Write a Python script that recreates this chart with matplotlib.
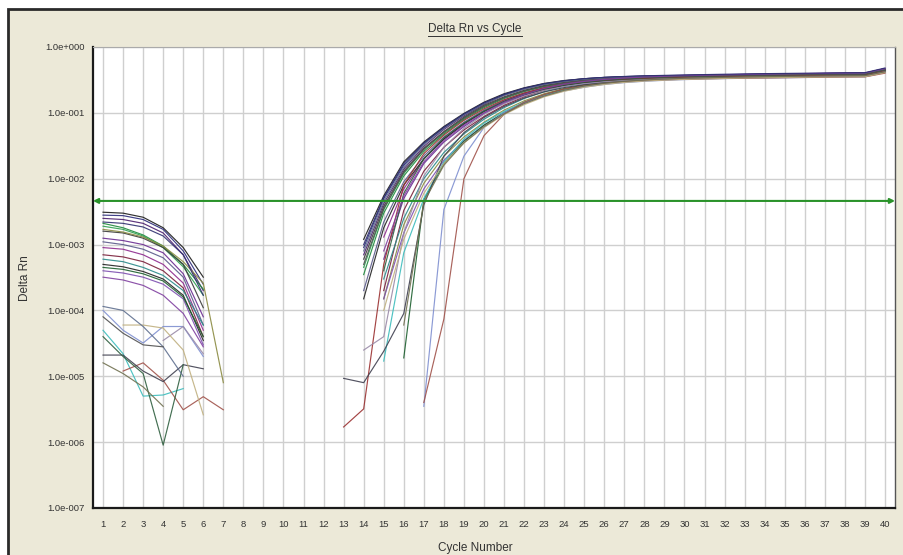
import numpy as np
import matplotlib
matplotlib.use("Agg")
import matplotlib.pyplot as plt
from matplotlib.patches import Rectangle, FancyArrowPatch
from matplotlib.lines import Line2D
from matplotlib.ticker import FixedLocator, FixedFormatter, NullLocator

plt.rcParams['font.family'] = ['Liberation Sans', 'DejaVu Sans']

title = "Delta Rn vs Cycle"
x_label = "Cycle Number"
y_label = "Delta Rn"
cycles = list(range(1, 41))
y_tick_values = [1e0, 1e-1, 1e-2, 1e-3, 1e-4, 1e-5, 1e-6, 1e-7]
y_tick_labels = ["1.0e+000", "1.0e-001", "1.0e-002", "1.0e-003",
                 "1.0e-004", "1.0e-005", "1.0e-006", "1.0e-007"]
threshold = 4.6e-3

curve_colors = [
    '#1a1a1a', '#2b2b7a', '#4b1f6f', '#1e8a3c', '#2ea050', '#3a3a3a', '#6a2c91',
    '#5a5a8a', '#8e2a8e', '#7a1f3a', '#2a8a8a', '#8a8a40', '#222222', '#7d4fb0',
    '#1c5f2e', '#3cbcbc', '#7f8fd0', '#a0524a', '#9a3030', '#404050', '#9a8aa8',
    '#2f5f3f', '#c0b080', '#707050', '#5f6f8f', '#505050', '#8040a0', '#303070',
]

# baseline-region values, cycles 1.. (None = not shown)
early_values = [
    [3.1e-3, 3.0e-3, 2.6e-3, 1.8e-3, 9e-4, 3.2e-4],
    [2.8e-3, 2.75e-3, 2.4e-3, 1.7e-3, 8e-4, 2.5e-4],
    [2.5e-3, 2.4e-3, 2.1e-3, 1.5e-3, 7e-4, 2e-4],
    [2.1e-3, 1.8e-3, 1.4e-3, 9.5e-4, 5e-4, 2.1e-4],
    [1.9e-3, 1.7e-3, 1.35e-3, 9e-4, 4.6e-4, 1.7e-4],
    [1.6e-3, 1.5e-3, 1.25e-3, 9e-4, 5e-4, 1.1e-4],
    [1.25e-3, 1.15e-3, 1e-3, 7.5e-4, 3.6e-4, 8e-5],
    [1.1e-3, 1.0e-3, 8.5e-4, 6.3e-4, 3.2e-4, 6e-5],
    [9e-4, 8.5e-4, 7e-4, 5e-4, 2.6e-4, 5e-5],
    [7e-4, 6.5e-4, 5.5e-4, 4e-4, 2.2e-4, 4e-5],
    [6e-4, 5.5e-4, 4.5e-4, 3.4e-4, 2e-4, 6e-5],
    [1.7e-3, 1.55e-3, 1.3e-3, 9.5e-4, 5.5e-4, 2.6e-4, 8e-6],
    [5e-4, 4.6e-4, 3.9e-4, 3e-4, 1.7e-4, 3.5e-5],
    [4e-4, 3.7e-4, 3.2e-4, 2.5e-4, 1.5e-4, 3e-5],
    [4.5e-4, 4.2e-4, 3.6e-4, 2.8e-4, 1.6e-4, 4e-5],
    [5e-5, 2.2e-5, 5e-6, 5.2e-6, 6.5e-6],
    [1.0e-4, 5e-5, 3.2e-5, 5.7e-5, 5.7e-5, 2e-5],
    [None, 1.2e-5, 1.6e-5, 8.7e-6, 3.1e-6, 4.9e-6, 3.1e-6],
    [],
    [2.1e-5, 2.1e-5, 1.2e-5, 8.3e-6, 1.5e-5, 1.3e-5],
    [None, None, None, 3.5e-5, 5.7e-5, 2.2e-5],
    [4e-5, 2e-5, 1.1e-5, 9e-7, 1.5e-5],
    [None, 6e-5, 6e-5, 5.4e-5, 2.5e-5, 2.6e-6],
    [1.6e-5, 1.1e-5, 6.9e-6, 3.5e-6],
    [1.15e-4, 1.0e-4, 5.7e-5, 2.8e-5, 1e-5],
    [8e-5, 4.5e-5, 3e-5, 2.8e-5],
    [3.2e-4, 2.9e-4, 2.4e-4, 1.7e-4, 9e-5, 2.8e-5],
    [2.2e-3, 2.1e-3, 1.85e-3, 1.35e-3, 7e-4, 1.7e-4],
]

# first cycle of the amplification-region values
late_start = [14, 14, 14, 14, 14, 14, 15, 14, 15, 15, 15, 15, 14, 15,
              16, 15, 17, 17, 13, 13, 14, 15, 15, 16, 14, 14, 15, 14]

late_values = [
    [1.2e-3, 5.5e-3, 1.8e-2, 3.6e-2, 6.2e-2, 0.098, 0.145, 0.195, 0.24, 0.28, 0.31, 0.33, 0.345, 0.355, 0.36, 0.365, 0.368, 0.372, 0.375, 0.378, 0.38, 0.383, 0.385, 0.388, 0.39, 0.392, 0.45],
    [9e-4, 5e-3, 1.6e-2, 3.4e-2, 6e-2, 0.095, 0.14, 0.19, 0.235, 0.275, 0.305, 0.33, 0.345, 0.355, 0.362, 0.367, 0.372, 0.376, 0.38, 0.384, 0.388, 0.39, 0.393, 0.396, 0.398, 0.40, 0.46],
    [7e-4, 4.2e-3, 1.4e-2, 3.1e-2, 5.6e-2, 0.09, 0.135, 0.185, 0.23, 0.27, 0.30, 0.325, 0.34, 0.352, 0.36, 0.366, 0.37, 0.375, 0.38, 0.383, 0.386, 0.39, 0.392, 0.395, 0.397, 0.40, 0.47],
    [3.5e-4, 3e-3, 1.1e-2, 2.6e-2, 4.8e-2, 0.08, 0.12, 0.165, 0.21, 0.25, 0.28, 0.305, 0.32, 0.332, 0.34, 0.346, 0.35, 0.355, 0.358, 0.362, 0.365, 0.368, 0.37, 0.372, 0.375, 0.377, 0.44],
    [4.5e-4, 3.4e-3, 1.2e-2, 2.8e-2, 5e-2, 0.083, 0.125, 0.17, 0.215, 0.255, 0.285, 0.31, 0.325, 0.336, 0.344, 0.35, 0.354, 0.358, 0.362, 0.366, 0.37, 0.372, 0.375, 0.378, 0.38, 0.382, 0.44],
    [6e-4, 3.8e-3, 1.3e-2, 2.9e-2, 5.2e-2, 0.086, 0.13, 0.175, 0.22, 0.26, 0.29, 0.315, 0.33, 0.34, 0.348, 0.354, 0.358, 0.362, 0.366, 0.37, 0.373, 0.376, 0.378, 0.38, 0.382, 0.385, 0.45],
    [6e-4, 5e-3, 1.7e-2, 3.6e-2, 6.2e-2, 0.098, 0.14, 0.185, 0.23, 0.27, 0.30, 0.322, 0.338, 0.35, 0.358, 0.364, 0.37, 0.375, 0.38, 0.385, 0.39, 0.394, 0.397, 0.40, 0.402, 0.47],
    [2e-4, 2.2e-3, 9e-3, 2.2e-2, 4.3e-2, 0.072, 0.11, 0.155, 0.2, 0.24, 0.27, 0.295, 0.312, 0.325, 0.334, 0.34, 0.345, 0.35, 0.355, 0.358, 0.362, 0.365, 0.368, 0.37, 0.372, 0.374, 0.43],
    [1.3e-3, 7e-3, 2e-2, 4e-2, 6.8e-2, 0.105, 0.15, 0.195, 0.24, 0.275, 0.305, 0.325, 0.34, 0.35, 0.358, 0.365, 0.37, 0.375, 0.38, 0.384, 0.388, 0.392, 0.395, 0.398, 0.40, 0.46],
    [2e-4, 3.3e-3, 1.3e-2, 3e-2, 5.5e-2, 0.088, 0.13, 0.175, 0.22, 0.26, 0.29, 0.312, 0.328, 0.34, 0.348, 0.354, 0.36, 0.365, 0.37, 0.374, 0.378, 0.381, 0.384, 0.387, 0.39, 0.45],
    [3e-4, 2.5e-3, 1e-2, 2.5e-2, 4.8e-2, 0.08, 0.12, 0.165, 0.21, 0.25, 0.28, 0.302, 0.318, 0.33, 0.338, 0.345, 0.35, 0.355, 0.36, 0.364, 0.368, 0.371, 0.374, 0.377, 0.38, 0.44],
    [1.5e-4, 2e-3, 8.5e-3, 2.2e-2, 4.3e-2, 0.072, 0.11, 0.152, 0.195, 0.235, 0.265, 0.29, 0.306, 0.318, 0.326, 0.332, 0.337, 0.342, 0.346, 0.35, 0.353, 0.356, 0.359, 0.362, 0.364, 0.42],
    [1.5e-4, 1.8e-3, 8e-3, 2e-2, 4e-2, 0.068, 0.105, 0.148, 0.19, 0.23, 0.262, 0.288, 0.305, 0.318, 0.327, 0.334, 0.34, 0.345, 0.35, 0.354, 0.358, 0.361, 0.364, 0.367, 0.37, 0.372, 0.43],
    [1.5e-4, 1.5e-3, 7e-3, 1.9e-2, 3.8e-2, 0.065, 0.1, 0.142, 0.185, 0.225, 0.258, 0.284, 0.302, 0.316, 0.326, 0.334, 0.34, 0.346, 0.351, 0.356, 0.36, 0.364, 0.367, 0.37, 0.373, 0.43],
    [1.9e-5, 4.8e-3, 1.7e-2, 3.7e-2, 6.5e-2, 0.1, 0.143, 0.188, 0.23, 0.265, 0.292, 0.312, 0.326, 0.336, 0.343, 0.348, 0.353, 0.357, 0.361, 0.365, 0.368, 0.371, 0.374, 0.376, 0.43],
    [1.7e-5, 7.5e-4, 5e-3, 1.8e-2, 4e-2, 0.07, 0.105, 0.145, 0.185, 0.222, 0.254, 0.278, 0.296, 0.31, 0.32, 0.328, 0.334, 0.34, 0.345, 0.35, 0.354, 0.357, 0.36, 0.363, 0.366, 0.42],
    [3.5e-6, 3.4e-3, 2.2e-2, 6e-2, 0.1, 0.14, 0.18, 0.215, 0.245, 0.27, 0.288, 0.302, 0.312, 0.32, 0.326, 0.331, 0.335, 0.338, 0.341, 0.344, 0.347, 0.35, 0.352, 0.41],
    [4e-6, 7.4e-5, 1.0e-2, 4.5e-2, 0.095, 0.145, 0.19, 0.23, 0.26, 0.282, 0.298, 0.31, 0.318, 0.324, 0.329, 0.333, 0.336, 0.339, 0.342, 0.345, 0.347, 0.35, 0.352, 0.40],
    [1.7e-6, 3.2e-6, 5e-4, 8e-3, 2.4e-2, 4.6e-2, 0.077, 0.115, 0.158, 0.2, 0.24, 0.27, 0.295, 0.312, 0.325, 0.334, 0.34, 0.346, 0.351, 0.355, 0.359, 0.362, 0.365, 0.368, 0.37, 0.372, 0.375, 0.43],
    [9.3e-6, 8e-6, 2.4e-5, 9e-5, 4e-3, 2.2e-2, 5e-2, 0.085, 0.125, 0.168, 0.208, 0.242, 0.27, 0.29, 0.305, 0.316, 0.324, 0.331, 0.336, 0.34, 0.344, 0.348, 0.351, 0.354, 0.357, 0.36, 0.362, 0.42],
    [2.5e-5, 4e-5, 1.5e-3, 1.1e-2, 3e-2, 5.8e-2, 0.095, 0.138, 0.18, 0.22, 0.252, 0.278, 0.297, 0.31, 0.32, 0.328, 0.334, 0.339, 0.343, 0.347, 0.35, 0.353, 0.356, 0.358, 0.36, 0.362, 0.42],
    [4e-4, 6e-3, 2e-2, 4.2e-2, 7e-2, 0.106, 0.148, 0.19, 0.23, 0.265, 0.292, 0.313, 0.328, 0.34, 0.348, 0.355, 0.36, 0.365, 0.37, 0.374, 0.378, 0.381, 0.384, 0.387, 0.39, 0.45],
    [1e-4, 1.2e-3, 6e-3, 1.7e-2, 3.5e-2, 0.06, 0.094, 0.133, 0.175, 0.213, 0.245, 0.27, 0.29, 0.304, 0.314, 0.322, 0.328, 0.333, 0.338, 0.342, 0.345, 0.348, 0.35, 0.352, 0.354, 0.41],
    [6e-5, 4.4e-3, 1.6e-2, 3.5e-2, 6.2e-2, 0.096, 0.138, 0.18, 0.22, 0.255, 0.282, 0.302, 0.316, 0.327, 0.335, 0.341, 0.346, 0.35, 0.354, 0.357, 0.36, 0.363, 0.365, 0.367, 0.42],
    [8e-4, 4.6e-3, 1.5e-2, 3.3e-2, 5.8e-2, 0.093, 0.138, 0.185, 0.23, 0.27, 0.3, 0.322, 0.338, 0.35, 0.358, 0.364, 0.369, 0.374, 0.378, 0.382, 0.386, 0.389, 0.392, 0.395, 0.398, 0.40, 0.47],
    [5e-4, 3.5e-3, 1.25e-2, 2.8e-2, 5.1e-2, 0.083, 0.125, 0.17, 0.214, 0.254, 0.285, 0.31, 0.326, 0.338, 0.346, 0.352, 0.357, 0.362, 0.366, 0.37, 0.373, 0.376, 0.379, 0.382, 0.384, 0.386, 0.45],
    [8e-4, 5.5e-3, 1.8e-2, 3.8e-2, 6.5e-2, 0.1, 0.145, 0.19, 0.235, 0.272, 0.3, 0.322, 0.338, 0.35, 0.36, 0.367, 0.373, 0.378, 0.383, 0.387, 0.391, 0.395, 0.398, 0.401, 0.404, 0.47],
    [1e-3, 5.2e-3, 1.7e-2, 3.5e-2, 6e-2, 0.096, 0.142, 0.19, 0.237, 0.277, 0.307, 0.33, 0.346, 0.357, 0.365, 0.371, 0.376, 0.381, 0.386, 0.39, 0.394, 0.397, 0.40, 0.403, 0.406, 0.408, 0.48],
]

W, H = 904, 555
fig = plt.figure(figsize=(W / 100, H / 100), dpi=100)
fig.patch.set_facecolor('white')

# panel background with dark frame (left / top)
fig.patches.append(Rectangle((8 / W, -0.01), 1.0, (H - 9) / H + 0.01,
                             transform=fig.transFigure, facecolor='#ECE9D8',
                             edgecolor='#2a2a2a', linewidth=2.0, zorder=-10))

ax = fig.add_axes([93 / W, 1 - 508 / H, (895 - 93) / W, (508 - 47) / H])
ax.set_zorder(1)
ax.set_facecolor('white')
ax.set_yscale('log')
ax.set_xlim(0.5, 40.5)
ax.set_ylim(1e-7, 1e0)

ax.xaxis.set_major_locator(FixedLocator(cycles))
ax.xaxis.set_major_formatter(FixedFormatter([str(c) for c in cycles]))
ax.yaxis.set_major_locator(FixedLocator(y_tick_values))
ax.yaxis.set_major_formatter(FixedFormatter(y_tick_labels))
ax.yaxis.set_minor_locator(NullLocator())
ax.tick_params(axis='both', length=0, labelsize=6.8, colors='#333333')
ax.tick_params(axis='x', pad=8.5)
ax.tick_params(axis='y', pad=6)
ax.grid(True, which='major', color='#cfcfcf', linewidth=1.0)
ax.set_axisbelow(True)

ax.spines['left'].set_color('#1a1a1a')
ax.spines['left'].set_linewidth(1.6)
ax.spines['bottom'].set_color('#1a1a1a')
ax.spines['bottom'].set_linewidth(1.6)
ax.spines['right'].set_color('#555555')
ax.spines['right'].set_linewidth(1.0)
ax.spines['top'].set_color('#aaaaaa')
ax.spines['top'].set_linewidth(0.8)

n_cycles = len(cycles)
for color, early, start, late in zip(curve_colors, early_values, late_start, late_values):
    y = np.full(n_cycles, np.nan)
    for i, v in enumerate(early):
        if v is not None:
            y[i] = v
    for j, v in enumerate(late):
        y[start - 1 + j] = v
    ax.plot(cycles, y, color=color, linewidth=0.85, alpha=0.9, zorder=3)

arrow = FancyArrowPatch((0.5, threshold), (40.5, threshold), arrowstyle='<|-|>',
                        mutation_scale=7, color='#2a922a', linewidth=1.5,
                        shrinkA=0, shrinkB=0, zorder=5, clip_on=False)
ax.add_patch(arrow)

t = fig.text(475 / W, 1 - 29 / H, title, ha='center', va='center',
             fontsize=8.5, color='#333333')
fig.text(475 / W, 1 - 548 / H, x_label, ha='center', va='center',
         fontsize=8.5, color='#333333')
fig.text(25 / W, 1 - 278 / H, y_label, ha='center', va='center',
         rotation=90, fontsize=8.5, color='#333333')

fig.canvas.draw()
bb = t.get_window_extent()
uy = (bb.y0 - 0.5) / fig.bbox.height
fig.add_artist(Line2D([bb.x0 / fig.bbox.width, bb.x1 / fig.bbox.width], [uy, uy],
                      transform=fig.transFigure, color='#333333', linewidth=0.7))

fig.savefig('out.png', dpi=100)
